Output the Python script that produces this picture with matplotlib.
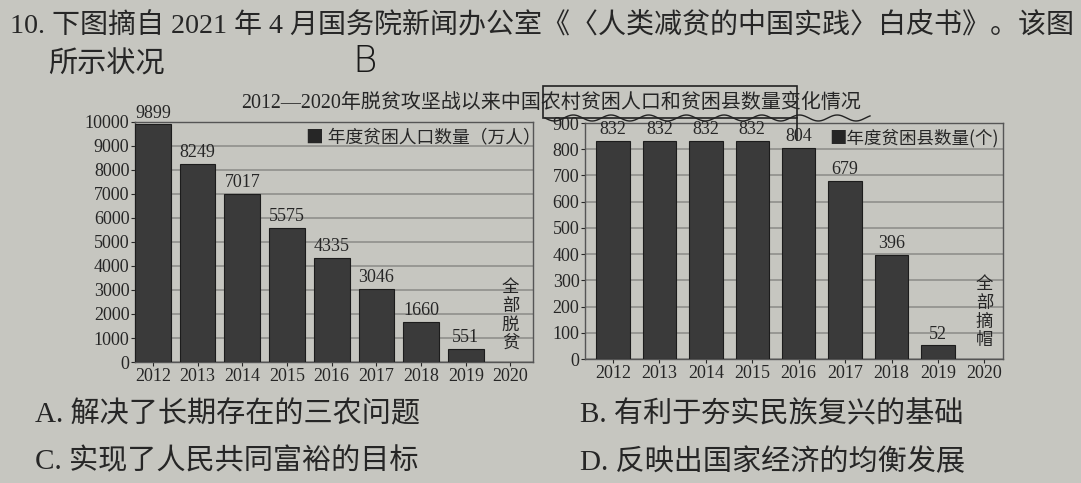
import numpy as np
import matplotlib
matplotlib.use('Agg')
from matplotlib import pyplot as plt

# 数据
years = ['2012', '2013', '2014', '2015', '2016', '2017', '2018', '2019', '2020']
people = [9899, 8249, 7017, 5575, 4335, 3046, 1660, 551]      # 万人, 2020 全部脱贫
counties = [832, 832, 832, 832, 804, 679, 396, 52]              # 个, 2020 全部摘帽
people_ticks = list(range(0, 10001, 1000))
county_ticks = list(range(0, 901, 100))

paper = '#c6c6c0'
bar_c = '#3a3a3a'
ink = '#262626'
grid_c = '#8f8f8c'
mix = ['Liberation Serif', 'Noto Sans CJK SC']
cjk = ['Noto Sans CJK SC', 'DejaVu Sans']

fig = plt.figure(figsize=(10.81, 4.83), dpi=100, facecolor=paper)


def draw(ax, vals, ticks, top, width, note, note_y):
    ax.set_facecolor(paper)
    x = np.arange(len(years))
    ax.bar(x[:len(vals)], vals, width=width, color=bar_c, edgecolor='#1c1c1c', lw=0.8, zorder=3)
    for xi, v in zip(x, vals):
        ax.text(xi, v + top * 0.012, str(v), ha='center', va='bottom', fontsize=13,
                family=mix, color=ink, clip_on=False, zorder=4)
    ax.set_ylim(0, top)
    ax.set_yticks(ticks)
    ax.set_xticks(x)
    ax.set_xticklabels(years)
    ax.grid(axis='y', color=grid_c, lw=1.2, zorder=0)
    for s in ax.spines.values():
        s.set_color('#555555')
        s.set_linewidth(1.0)
    ax.tick_params(axis='both', labelsize=13, colors=ink, length=3, pad=1)
    for t in ax.get_xticklabels() + ax.get_yticklabels():
        t.set_family(mix)
    ax.text(8, note_y, '\n'.join(note), ha='center', va='top', fontsize=12.5,
            family=cjk, color=ink, linespacing=1.05, zorder=4)
    return ax


ax1 = fig.add_axes([0.1249, 0.2505, 0.368, 0.497])
draw(ax1, people, people_ticks, 10000, 0.8, '全部脱贫', 3500)
ax1.set_xlim(-0.4, 8.5)
ax1.text(0.43, 0.935, '■ 年度贫困人口数量（万人）', transform=ax1.transAxes, fontsize=12.8,
         family=cjk, color=ink, va='center')

ax2 = fig.add_axes([0.5412, 0.2567, 0.3867, 0.4886])
draw(ax2, counties, county_ticks, 900, 0.72, '全部摘帽', 320)
ax2.set_xlim(-0.6, 8.4)
ax2.text(0.585, 0.935, '■年度贫困县数量(个)', transform=ax2.transAxes, fontsize=12.6,
         family=cjk, color=ink, va='center')

# 标题
fig.text(0.51, 1 - 103 / 483, '2012—2020年脱贫攻坚战以来中国农村贫困人口和贫困县数量变化情况',
         ha='center', va='center', fontsize=14.4, family=mix, color=ink)

# 题干
fig.text(10 / 1081, 1 - 25 / 483, '10. 下图摘自 2021 年 4 月国务院新闻办公室《〈人类减贫的中国实践〉白皮书》。该图',
         ha='left', va='center', fontsize=20.2, family=mix, color=ink)
fig.text(48 / 1081, 1 - 65 / 483, '所示状况', ha='left', va='center', fontsize=21, family=cjk, color=ink)

# 选项
opts = [('A. 解决了长期存在的三农问题', 35, 415), ('B. 有利于夯实民族复兴的基础', 580, 415),
        ('C. 实现了人民共同富裕的目标', 35, 462), ('D. 反映出国家经济的均衡发展', 580, 462)]
for s, px, py in opts:
    fig.text(px / 1081, 1 - py / 483, s, ha='left', va='center', fontsize=21, family=mix, color=ink)

# 手写痕迹
fig.text(365 / 1081, 1 - 62 / 483, 'B', ha='center', va='center', fontsize=27,
         family='DejaVu Sans', color='#1a1a1a', fontweight='light')
fig.add_artist(plt.Rectangle((543 / 1081, 1 - 118 / 483), 254 / 1081, 32 / 483,
                             transform=fig.transFigure, fill=False, ec='#222222', lw=1.2))
fig.add_artist(plt.Line2D([797 / 1081, 797 / 1081], [1 - 118 / 483, 1 - 140 / 483],
                          transform=fig.transFigure, color='#222222', lw=1.2))
wx = np.linspace(545, 870, 200)
fig.add_artist(plt.Line2D(wx / 1081, 1 - (118 + 3 * np.sin((wx - 545) / 6)) / 483,
                          transform=fig.transFigure, color='#222222', lw=1))

fig.savefig('out.png', dpi=100, facecolor=paper)
